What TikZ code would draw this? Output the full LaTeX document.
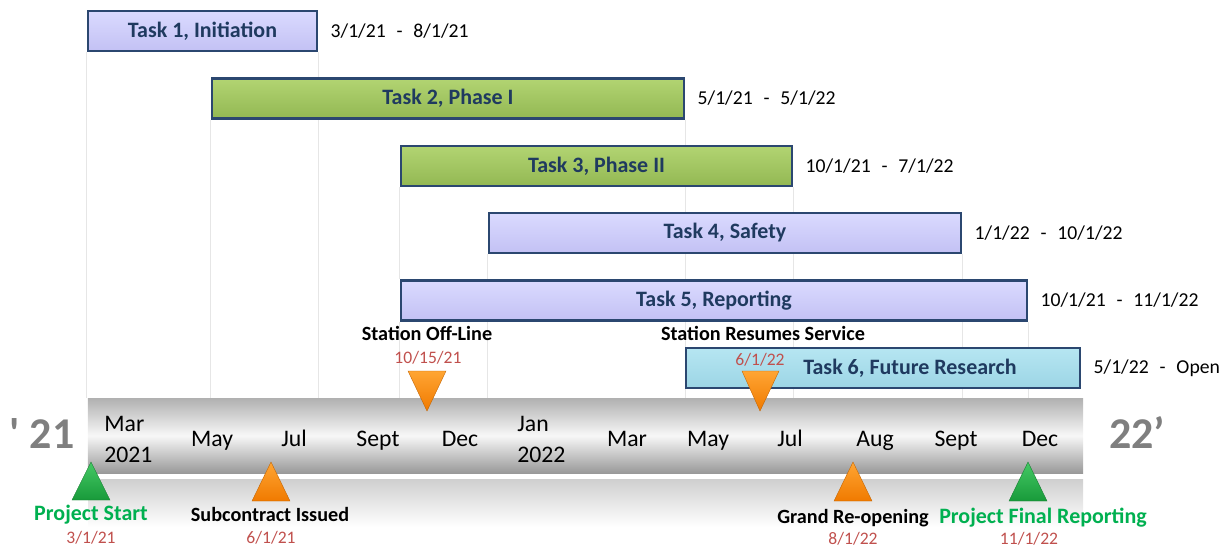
\documentclass[tikz,border=0pt]{standalone}
\usepackage{fontspec}
\setmainfont{Carlito}
\usetikzlibrary{backgrounds}
\definecolor{barblue}{HTML}{2B4770}
\definecolor{tasktext}{HTML}{1F3A5F}
\definecolor{purtop}{HTML}{DADAFF}
\definecolor{purbot}{HTML}{C3C1F4}
\definecolor{grntop}{HTML}{B2D472}
\definecolor{grnbot}{HTML}{93B853}
\definecolor{cyntop}{HTML}{B6E6F2}
\definecolor{cynbot}{HTML}{9CD5E5}
\definecolor{msgreen}{HTML}{00B050}
\definecolor{msred}{HTML}{C0504D}
\definecolor{yeargray}{HTML}{7F7F7F}
\definecolor{gridline}{HTML}{E6E6E6}
\definecolor{oratop}{HTML}{FFA533}
\definecolor{orabot}{HTML}{F07A00}
\definecolor{gtritop}{HTML}{45C965}
\definecolor{gtribot}{HTML}{189A3A}
\tikzset{
  taskbar/.style={rectangle, draw=barblue, line width=1.5pt, minimum height=8mm,
    inner sep=0pt, text=tasktext, font=\fontsize{12.5}{14}\selectfont\bfseries},
  purplebar/.style={taskbar, top color=purtop, bottom color=purbot},
  greenbar/.style={taskbar, top color=grntop, bottom color=grnbot},
  cyanbar/.style={taskbar, top color=cyntop, bottom color=cynbot},
  datelbl/.style={anchor=west, inner sep=0pt, xshift=2.4mm, font=\fontsize{11.2}{13}\selectfont},
  month/.style={anchor=base, inner sep=0pt, font=\fontsize{13.5}{16}\selectfont},
  yearlbl/.style={anchor=base, inner sep=0pt, text=yeargray, font=\fontsize{25}{30}\selectfont\bfseries},
  mslbl/.style={anchor=base, inner sep=0pt, font=\fontsize{11.5}{14}\selectfont\bfseries},
  greenlbl/.style={anchor=base, inner sep=0pt, text=msgreen, font=\fontsize{12.5}{15}\selectfont\bfseries},
  msdate/.style={anchor=base, inner sep=0pt, text=msred, font=\fontsize{10}{12}\selectfont},
  gridln/.style={draw=gridline, line width=0.6pt},
  oratri/.style={top color=oratop, bottom color=orabot, draw=orabot!80!black, line width=0.2pt},
  grntri/.style={top color=gtritop, bottom color=gtribot, draw=gtribot!80!black, line width=0.2pt},
}
\newcommand{\dsep}{\hspace{0.55em}-\hspace{0.55em}}
\begin{document}
\begin{tikzpicture}[x=0.2mm,y=-0.2mm]
\useasboundingbox (0,0) rectangle (1220,550);

% timeline bar and reflection
\path[top color=gray!38, bottom color=white] (88,479) rectangle (1083,527);
\node[rectangle, minimum width=199mm, minimum height=15mm, inner sep=0pt,
  top color=gray!62, bottom color=gray!80, middle color=gray!6] (tl) at (585.5,435.5) {};

% task bars
\node[purplebar, minimum width=45.8mm] (t1) at (202.5,31) {Task 1, Initiation};
\node[greenbar,  minimum width=94.4mm] (t2) at (448,98.5) {Task 2, Phase I};
\node[greenbar,  minimum width=78.2mm] (t3) at (596.5,166) {Task 3, Phase II};
\node[purplebar, minimum width=94.4mm] (t4) at (725,233) {Task 4, Safety};
\node[purplebar, minimum width=125.2mm] (t5) at (714,300.5) {Task 5, Reporting};
\node[cyanbar, minimum width=78.8mm] (t6) at (883,368) {\hspace*{10.8mm}Task 6, Future Research};

% grid lines
\begin{scope}[on background layer]
\draw[gridln] (t1.south west) -- (t1.south west |- tl.north);
\draw[gridln] (t1.south east) -- (t1.south east |- tl.north);
\draw[gridln] (t2.south west) -- (t2.south west |- tl.north);
\draw[gridln] (t2.south east) -- (t2.south east |- tl.north);
\draw[gridln] (t3.south west) -- (t3.south west |- t5.north);
\draw[gridln] (t5.south west) -- (t5.south west |- tl.north);
\draw[gridln] (t3.south east) -- (t3.south east |- tl.north);
\draw[gridln] (t4.south west) -- (t4.south west |- tl.north);
\draw[gridln] (t4.south east) -- (t4.south east |- tl.north);
\draw[gridln] (t5.south east) -- (t5.south east |- tl.north);
\end{scope}

% date labels
\node[datelbl] (d1) at (t1.east) {3/1/21\dsep8/1/21};
\node[datelbl] (d2) at (t2.east) {5/1/21\dsep5/1/22};
\node[datelbl] (d3) at (t3.east) {10/1/21\dsep7/1/22};
\node[datelbl] (d4) at (t4.east) {1/1/22\dsep10/1/22};
\node[datelbl] (d5) at (t5.east) {10/1/21\dsep11/1/22};
\node[datelbl] (d6) at (t6.east) {5/1/22\dsep Open};

% months
\node[month, anchor=base west] (m1a) at (104,431) {Mar};
\node[month, anchor=base west] (m1b) at (104,462) {2021};
\node[month] (m2) at (212,446) {May};
\node[month] (m3) at (294,446) {Jul};
\node[month] (m4) at (378,446) {Sept};
\node[month] (m5) at (460,446) {Dec};
\node[month, anchor=base west] (m6a) at (517,431) {Jan};
\node[month, anchor=base west] (m6b) at (517,462) {2022};
\node[month] (m7) at (627,446) {Mar};
\node[month] (m8) at (708,446) {May};
\node[month] (m9) at (790,446) {Jul};
\node[month] (m10) at (875,446) {Aug};
\node[month] (m11) at (956,446) {Sept};
\node[month] (m12) at (1040,446) {Dec};

% year labels
\node[yearlbl] (y1) at (42,448) {\textquotesingle\ 21};
\node[yearlbl] (y2) at (1137,448) {22’};

% triangles below (up)
\path[grntri] (72,500) -- (91,462) -- (110,500) -- cycle;
\path[oratri] (252,501) -- (271,462) -- (290,501) -- cycle;
\path[oratri] (834,501) -- (853,462) -- (872,501) -- cycle;
\path[grntri] (1009,501) -- (1028,462) -- (1047,501) -- cycle;
% triangles above (down)
\path[oratri] (408,371) -- (446,371) -- (427,411) -- cycle;
\path[oratri] (742,371) -- (779,371) -- (760,411) -- cycle;

% milestone labels
\node[greenlbl] (ms1) at (91,520) {Project Start};
\node[msdate] (md1) at (91,543) {3/1/21};
\node[mslbl] (ms2) at (270,521) {Subcontract Issued};
\node[msdate] (md2) at (271,543) {6/1/21};
\node[mslbl] (ms3) at (853,523) {Grand Re-opening};
\node[msdate] (md3) at (853,544) {8/1/22};
\node[greenlbl] (ms4) at (1043,523) {Project Final Reporting};
\node[msdate] (md4) at (1029,544) {11/1/22};
\node[mslbl] (ms5) at (427,340) {Station Off-Line};
\node[msdate] (md5) at (428,363) {10/15/21};
\node[mslbl] (ms6) at (763,340) {Station Resumes Service};
\node[msdate] (md6) at (760,365) {6/1/22};
\end{tikzpicture}
\end{document}
